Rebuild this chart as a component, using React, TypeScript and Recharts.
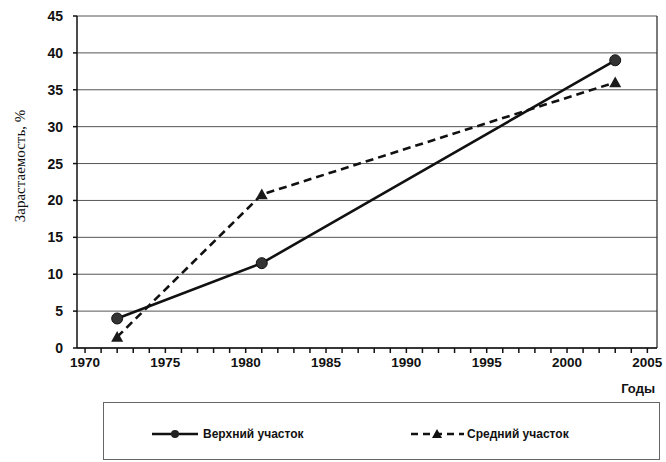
import React from 'react';
import { LineChart, Line, XAxis, YAxis, CartesianGrid, ReferenceLine } from 'recharts';

const years = [1972, 1981, 2003];
const upperSection = [4, 11.5, 39];
const middleSection = [1.5, 20.8, 36];
const yTicks = [0, 5, 10, 15, 20, 25, 30, 35, 40, 45];
const xTicks = [1970,1971,1972,1973,1974,1975,1976,1977,1978,1979,1980,1981,1982,1983,1984,1985,1986,1987,1988,1989,1990,1991,1992,1993,1994,1995,1996,1997,1998,1999,2000,2001,2002,2003,2004,2005];
const xDomain = [1969.5, 2005.6];
const seriesNames = ['Верхний участок', 'Средний участок'];
const yAxisTitle = 'Зарастаемость, %';
const xAxisTitle = 'Годы';

const data = years.map((y, i) => ({ year: y, upper: upperSection[i], middle: middleSection[i] }));

const sans = '"Liberation Sans", Arial, sans-serif';
const serif = '"Liberation Serif", "Times New Roman", serif';

const Triangle = (props: any) => {
  const { cx, cy } = props;
  if (cx == null || cy == null) return null;
  const s = 6;
  return <polygon key={`t-${cx}`} points={`${cx},${cy - s} ${cx + s},${cy + s * 0.8} ${cx - s},${cy + s * 0.8}`} fill="#1a1a1a" />;
};

const Circle = (props: any) => {
  const { cx, cy } = props;
  if (cx == null || cy == null) return null;
  return <circle key={`c-${cx}`} cx={cx} cy={cy} r={5.5} fill="#333" stroke="#111" strokeWidth={1} />;
};

const YTitle = () => (
  <text x={20} y={166} transform="rotate(-90 20 166)" textAnchor="middle" dominantBaseline="central" fill="#111" fontSize={15} fontFamily={serif}>
    {yAxisTitle}
  </text>
);

export default function App() {
  return (
    <div style={{ position: 'absolute', left: 0, top: 0, width: 666, height: 462, background: '#fff' }}>
      <LineChart width={666} height={462} data={data} margin={{ top: 16, right: 9, bottom: 67, left: 0 }}>
        <CartesianGrid horizontal={true} vertical={false} stroke="#555" strokeWidth={1} />
        <XAxis
          dataKey="year"
          type="number"
          domain={xDomain}
          ticks={xTicks}
          interval={0}
          allowDataOverflow
          tickFormatter={(v: number) => (v % 5 === 0 ? String(v) : '')}
          tick={{ fill: '#111', fontSize: 13.5, fontFamily: sans, fontWeight: 'bold' }}
          tickSize={5}
          tickMargin={4}
          stroke="#111"
          strokeWidth={1.5}
          height={47}
          label={{ value: xAxisTitle, position: 'insideBottomRight', offset: 2, fill: '#111', fontSize: 13, fontFamily: sans, fontWeight: 'bold' }}
        />
        <YAxis
          type="number"
          domain={[0, 45]}
          ticks={yTicks}
          interval={0}
          width={77}
          tick={{ fill: '#111', fontSize: 14, fontFamily: sans, fontWeight: 'bold' }}
          tickSize={4}
          tickMargin={10}
          stroke="#111"
          strokeWidth={1.5}
          label={<YTitle />}
        />
        <ReferenceLine x={xDomain[1]} stroke="#222" strokeWidth={1.2} />
        <Line
          dataKey="upper"
          name={seriesNames[0]}
          stroke="#111"
          strokeWidth={2.6}
          dot={<Circle />}
          isAnimationActive={false}
        />
        <Line
          dataKey="middle"
          name={seriesNames[1]}
          stroke="#111"
          strokeWidth={2.6}
          strokeDasharray="8 5"
          dot={<Triangle />}
          isAnimationActive={false}
        />
      </LineChart>
      <div style={{ position: 'absolute', left: 103, top: 402, width: 557, height: 58, border: '1px solid #666', boxSizing: 'border-box' }}>
        <div style={{ position: 'absolute', left: 48, top: 24, display: 'flex', alignItems: 'center', fontFamily: sans, fontWeight: 'bold', fontSize: 12, color: '#111' }}>
          <svg width={48} height={12} style={{ marginRight: 3 }}>
            <line x1={0} y1={6} x2={46} y2={6} stroke="#111" strokeWidth={2.4} />
            <circle cx={23} cy={6} r={4} fill="#222" />
          </svg>
          <span>{seriesNames[0]}</span>
        </div>
        <div style={{ position: 'absolute', left: 307, top: 24, display: 'flex', alignItems: 'center', fontFamily: sans, fontWeight: 'bold', fontSize: 12, color: '#111' }}>
          <svg width={53} height={12} style={{ marginRight: 3 }}>
            <line x1={0} y1={6} x2={53} y2={6} stroke="#111" strokeWidth={2.4} strokeDasharray="7 5" />
            <polygon points="26,1 31,10 21,10" fill="#111" />
          </svg>
          <span>{seriesNames[1]}</span>
        </div>
      </div>
    </div>
  );
}
